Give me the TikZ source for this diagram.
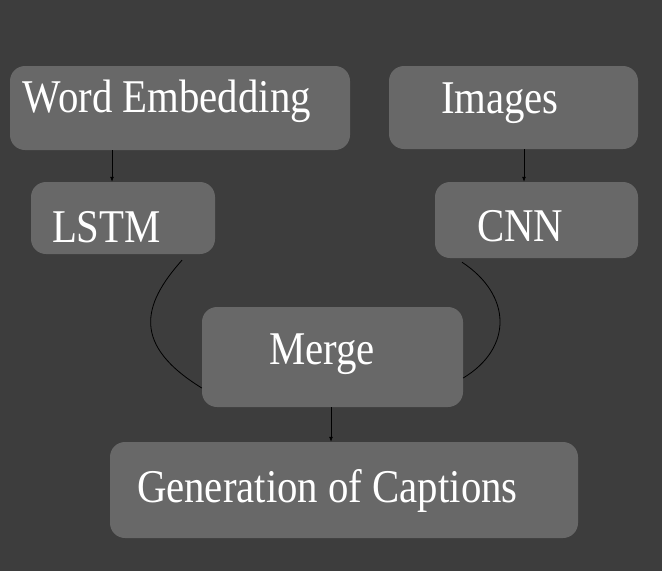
\documentclass[tikz,border=0pt]{standalone}
\usepackage{fontspec}
\setmainfont{Liberation Serif}
\usepackage{graphicx}
\usetikzlibrary{arrows.meta}
\definecolor{capBg}{HTML}{3D3D3D}
\definecolor{capBox}{HTML}{686868}
\providecommand{\capLineColor}{black}
\providecommand{\capLineWidth}{0.8pt}
\newcommand{\capText}[1]{\scalebox{1}[1.15]{#1}}

\begin{document}
\begin{tikzpicture}[x=1pt, y=-1pt,
  capnode/.style={draw=none, fill=capBox, rounded corners=15pt, inner sep=0pt},
  captext/.style={anchor=base west, inner sep=0pt, text=white, font=\fontsize{40.8}{48}\selectfont},
  capconn/.style={draw=\capLineColor, line width=\capLineWidth, -{Latex[length=5pt,width=4pt]}},
  capcurve/.style={draw=\capLineColor, line width=\capLineWidth}]
% Background, also fixes the picture's size
\fill[capBg] (0,0) rectangle (662,571);
% Boxes
\node[capnode, minimum width=340pt, minimum height=84pt] (we) at (180,108) {};
\node[capnode, minimum width=249pt, minimum height=83pt] (img) at (513.5,107.5) {};
\node[capnode, minimum width=184pt, minimum height=72pt] (lstm) at (123,218) {};
\node[capnode, minimum width=203pt, minimum height=76pt] (cnn) at (536.5,220) {};
\node[capnode, minimum width=261pt, minimum height=100pt] (merge) at (332.5,357) {};
\node[capnode, minimum width=468pt, minimum height=96pt] (gen) at (344,490) {};
% Texts, set off the left side of each box
\node[captext] (weT) at ([xshift=13pt,yshift=-4pt]we.west) {\capText{Word Embedding}};
\node[captext] (imgT) at ([xshift=52pt,yshift=-5.5pt]img.west) {\capText{Images}};
\node[captext] (lstmT) at ([xshift=21pt,yshift=-24pt]lstm.west) {\capText{LSTM}};
\node[captext] (cnnT) at ([xshift=42pt,yshift=-21pt]cnn.west) {\capText{CNN}};
\node[captext] (mergeT) at ([xshift=67pt,yshift=-7pt]merge.west) {\capText{Merge}};
\node[captext] (genT) at ([xshift=27pt,yshift=-12pt]gen.west) {\capText{Generation of Captions}};
% Straight arrows
\draw[capconn] ([xshift=-68pt]we.south) -- ([xshift=-68pt]we.south |- lstm.north);
\draw[capconn] ([xshift=10.5pt]img.south) -- ([xshift=10.5pt]img.south |- cnn.north);
\draw[capconn] ([xshift=-1.5pt]merge.south) -- ([xshift=-1.5pt]merge.south |- gen.north);
% Curves into Merge
\draw[capcurve] ([xshift=59pt,yshift=-6pt]lstm.south) .. controls (142,305) and (132,345) .. ([yshift=-31pt]merge.west);
\draw[capcurve] ([xshift=-74.5pt,yshift=-4pt]cnn.south) .. controls (512,295) and (513,348) .. ([yshift=-21pt]merge.east);
\end{tikzpicture}
\end{document}
